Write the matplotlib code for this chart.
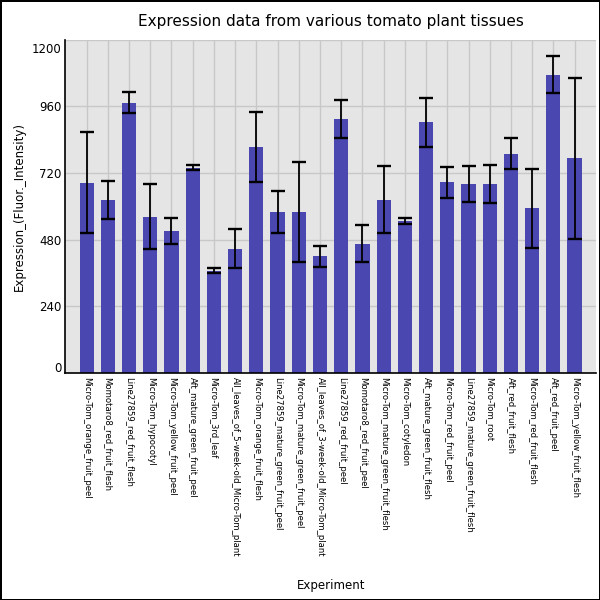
import numpy as np
import matplotlib
matplotlib.use('Agg')
from matplotlib import pyplot as plt
from matplotlib.transforms import ScaledTranslation

# tissue names, mean expression, error (half width)
tissues = ['Micro-Tom_orange_fruit_peel', 'Momotaro8_red_fruit_flesh', 'Line27859_red_fruit_flesh',
           'Micro-Tom_hypocotyl', 'Micro-Tom_yellow_fruit_peel', 'Aft_mature_green_fruit_peel',
           'Micro-Tom_3rd_leaf', 'All_leaves_of_5-week-old_Micro-Tom_plant', 'Micro-Tom_orange_fruit_flesh',
           'Line27859_mature_green_fruit_peel', 'Micro-Tom_mature_green_fruit_peel',
           'All_leaves_of_3-week-old_Micro-Tom_plant', 'Line27859_red_fruit_peel', 'Momotaro8_red_fruit_peel',
           'Micro-Tom_mature_green_fruit_flesh', 'Micro-Tom_cotyledon', 'Aft_mature_green_fruit_flesh',
           'Micro-Tom_red_fruit_peel', 'Line27859_mature_green_fruit_flesh', 'Micro-Tom_root',
           'Aft_red_fruit_flesh', 'Micro-Tom_red_fruit_flesh', 'Aft_red_fruit_peel', 'Micro-Tom_yellow_fruit_flesh']
expr = [685, 624, 973, 563, 513, 739, 369, 448, 812, 581, 581, 420, 915,
        466, 624, 548, 902, 686, 682, 682, 790, 593, 1074, 773]
err = [181, 69, 38, 118, 47, 9, 8, 70, 126, 75, 180, 39, 68,
       66, 120, 10, 87, 54, 65, 68, 55, 142, 66, 290]
yticks = [0, 240, 480, 720, 960, 1200]

fig = plt.figure(figsize=(6, 6), dpi=100, edgecolor='black', linewidth=2)
ax = fig.add_axes([0.109, 0.378, 0.884, 0.556])
ax.set_facecolor('#e5e5e5')

x = np.arange(len(tissues))
ax.bar(x, expr, width=0.67, color='#4a47b1', zorder=2)
ax.errorbar(x, expr, yerr=err, fmt='none', ecolor='black', elinewidth=1.3,
            capsize=4.8, capthick=1.7, zorder=3)

ax.set_xlim(-1, len(tissues))
ax.set_ylim(0, 1195)
ax.set_xticks(x)
ax.set_xticklabels(tissues, rotation=-90, fontsize=6.1, va='top', ha='center')
ax.set_yticks(yticks)
ax.set_yticklabels([str(v) for v in yticks], fontsize=8.5)
ax.tick_params(length=0, pad=3)
ax.grid(True, color='#c8c8c8', linewidth=1, zorder=0)
ax.set_axisbelow(True)
for s in ['top', 'right']:
    ax.spines[s].set_visible(False)
ax.spines['left'].set_linewidth(1.2)
ax.spines['bottom'].set_linewidth(1.2)

# end labels sit inside the axis range
labs = ax.get_yticklabels()
labs[0].set_transform(labs[0].get_transform() + ScaledTranslation(0, 6 / 100, fig.dpi_scale_trans))
labs[-1].set_transform(labs[-1].get_transform() + ScaledTranslation(0, -8 / 100, fig.dpi_scale_trans))

ax.set_title('Expression data from various tomato plant tissues', fontsize=11, pad=10)
ax.set_ylabel('Expression_(Fluor._Intensity)', fontsize=8.5)
fig.text(0.5525, 0.025, 'Experiment', ha='center', va='center', fontsize=8.5)

plt.savefig('out.png', dpi=100, edgecolor=fig.get_edgecolor())
